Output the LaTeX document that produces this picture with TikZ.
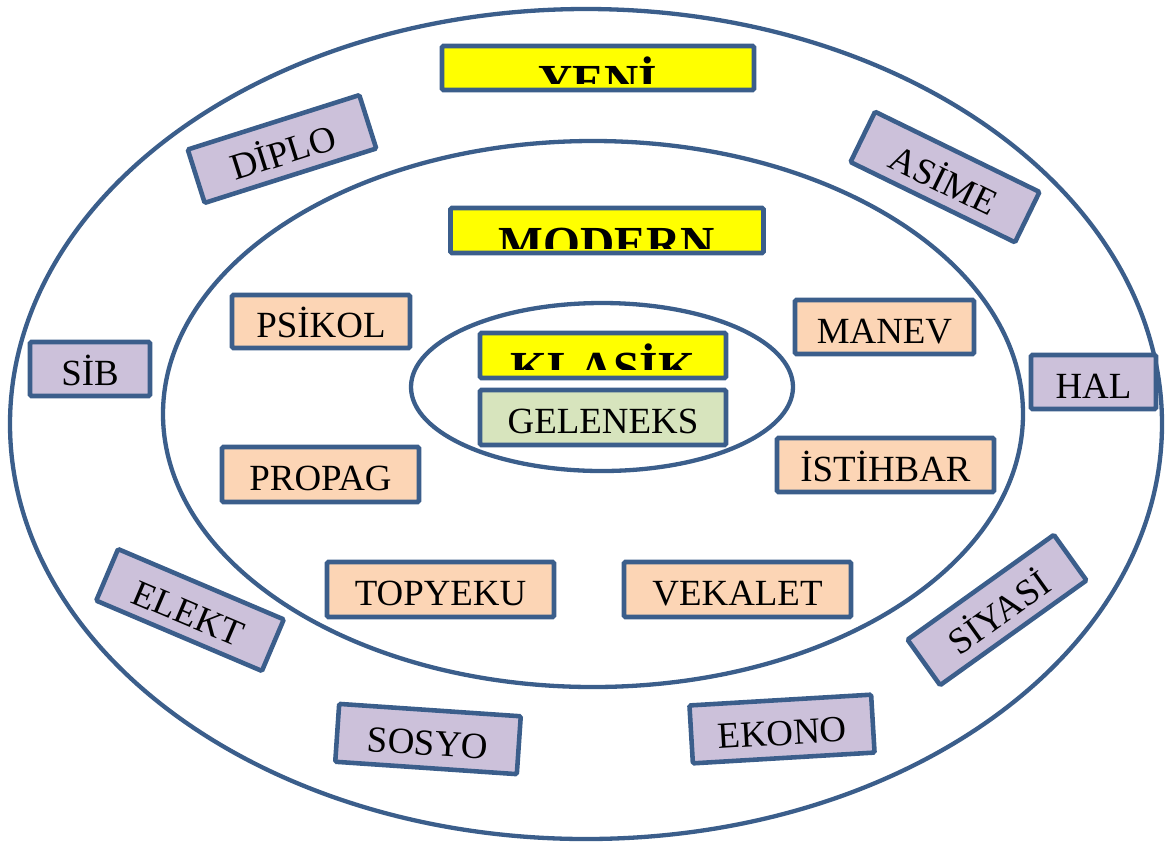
\documentclass[tikz,border=0pt]{standalone}
\usepackage{fontspec}
\setmainfont{Liberation Serif}
\usetikzlibrary{calc}
\definecolor{bordc}{HTML}{3B5E8B}
\definecolor{yelc}{HTML}{FFFF00}
\definecolor{grnc}{HTML}{D7E4BD}
\definecolor{pchc}{HTML}{FCD5B5}
\definecolor{lavc}{HTML}{CCC1DA}
\tikzset{
  ring/.style={draw=bordc, line width=2.45pt},
  boxbase/.style={draw=bordc, line width=2.6pt, rounded corners=0.8pt, inner sep=0pt,
     font=\fontsize{21pt}{25pt}\selectfont, text height=18.4pt, text depth=0pt},
  peach/.style={boxbase, fill=pchc},
  lav/.style={boxbase, fill=lavc},
  grn/.style={boxbase, fill=grnc},
  yel/.style={boxbase, fill=yelc},
  ttl/.style={anchor=base, inner sep=0pt, font=\fontsize{27pt}{30pt}\selectfont\bfseries},
  sz/.style 2 args={minimum width=#1*0.02cm, minimum height=#2*0.02cm}
}
\begin{document}
\begin{tikzpicture}[x=0.02cm,y=-0.02cm]
\useasboundingbox (0,0) rectangle (1166,843);
% rings
\draw[ring] (586,424) ellipse [x radius=576, y radius=415];
\draw[ring] (593,414) ellipse [x radius=430, y radius=273];
\draw[ring] (602,387) ellipse [x radius=191, y radius=84];
% title boxes
\node[yel, sz={312}{44}] (yeni) at (598,68) {};
\node[yel, sz={313}{45}] (modern) at (607,230.5) {};
\node[yel, sz={246}{45}] (klasik) at (603,355.5) {};
\begin{scope}
  \clip ($(yeni.north west)+(2,2)$) rectangle ($(yeni.south east)+(-2,-9)$);
  \node[ttl] (yenit) at ($(yeni.north)+(0,53.5)$) {YENİ};
\end{scope}
\begin{scope}
  \clip ($(modern.north west)+(2,2)$) rectangle ($(modern.south east)+(-2,-7)$);
  \node[ttl] (modernt) at ($(modern.north)+(0,53.5)$) {MODERN};
\end{scope}
\begin{scope}
  \clip ($(klasik.north west)+(2,2)$) rectangle ($(klasik.south east)+(-2,-11)$);
  \node[ttl] (klasikt) at ($(klasik.north)+(0,53.5)$) {KLASİK};
\end{scope}
% inner
\node[grn, sz={246}{55}] (geleneks) at (603,417.5) {GELENEKS};
% middle ring
\node[peach, sz={178}{53}] (psikol) at (321,321.5) {PSİKOL};
\node[peach, sz={179}{54}] (manev) at (884.5,327) {MANEV};
\node[peach, sz={197}{55}] (propag) at (320.5,474.5) {PROPAG};
\node[peach, sz={217}{54}] (istihbar) at (885.5,465) {İSTİHBAR};
\node[peach, sz={227}{55}] (topyeku) at (440.5,589.5) {TOPYEKU};
\node[peach, sz={227}{55}] (vekalet) at (737.5,589.5) {VEKALET};
% outer ring
\node[lav, sz={120}{54}] (sib) at (90,369) {SİB};
\node[lav, sz={125}{54}] (hal) at (1093.5,382) {HAL};
\node[lav, sz={180}{56}, rotate=17.6] (diplo) at (282,149) {DİPLO};
\node[lav, sz={183}{56}, rotate=-26] (asime) at (945,177) {ASİME};
\node[lav, sz={180}{56}, rotate=-23] (elekt) at (190,610) {ELEKT};
\node[lav, sz={180}{56}, rotate=35.6] (siyasi) at (997,610) {SİYASİ};
\node[lav, sz={182}{58}, rotate=-3.9] (sosyo) at (428,739) {SOSYO};
\node[lav, sz={182}{58}, rotate=3.4] (ekono) at (782,729) {EKONO};
\end{tikzpicture}
\end{document}
